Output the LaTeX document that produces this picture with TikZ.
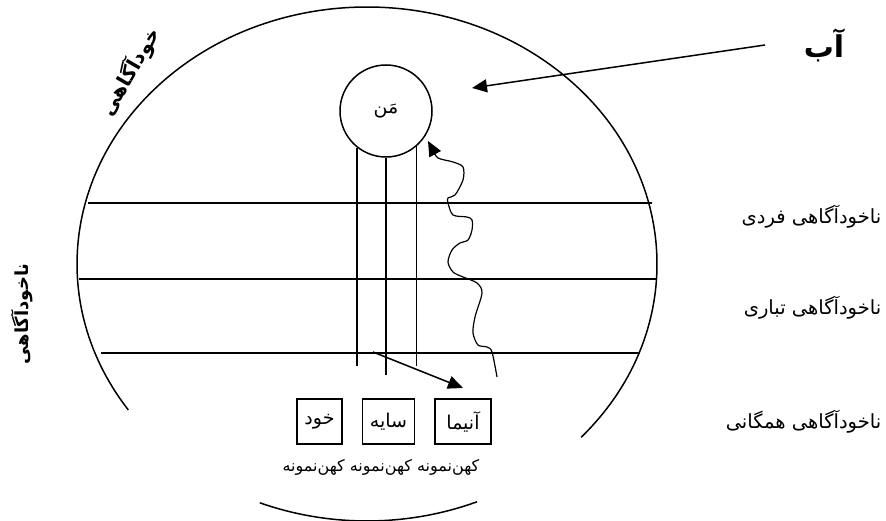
\documentclass[tikz,border=0pt]{standalone}
\usepackage{fontspec}
\newfontfamily\farsi[Script=Arabic]{DejaVu Sans}
\TeXXeTstate=1
\newcommand{\fatext}[1]{\farsi\beginR #1\endR}
\usetikzlibrary{arrows.meta,positioning}
\begin{document}
\begin{tikzpicture}[x=1pt,y=1pt,line width=1.5pt,
    lbl/.style={inner sep=0pt,font=\fontsize{19.5}{22}\selectfont},
    boldlbl/.style={inner sep=0pt,font=\fontsize{20}{24}\selectfont\bfseries},
    archbox/.style={draw,minimum height=45pt,inner sep=0pt,font=\fontsize{19}{22}\selectfont},
    tip/.style={-{Triangle[length=15pt,width=13pt]}}]
  \useasboundingbox (0,0) rectangle (886,521);
  % the psyche
  \draw (367,257) ++(-42.4:290 and 257) arc[start angle=-42.4,end angle=214.6,x radius=290,y radius=257];
  \draw (367,257) ++(248.3:290 and 257) arc[start angle=248.3,end angle=292.3,x radius=290,y radius=257];
  % layers
  \draw (88,318) -- (652,318)
        (79,242) -- (657,242)
        (101,168) -- (640,168);
  % the ego and its threads
  \node[draw,circle,minimum size=92pt,inner sep=0pt,font=\fontsize{19}{22}\selectfont] (me) at (386,410) {\fatext{مَن}};
  \coordinate (lowA) at (0,155);
  \coordinate (lowB) at (0,146);
  \draw (me.232) -- (me.232 |- lowA)
        (me.south) -- (me.south |- lowB)
        (me.311) -- (me.311 |- lowA);
  % archetypes
  \node[archbox,minimum width=45pt] (khod) at (319.5,99.5) {\fatext{خود}};
  \node[archbox,minimum width=52pt,right=19pt of khod] (sayeh) {\fatext{سایه}};
  \node[archbox,minimum width=56pt,right=19pt of sayeh] (anima) {\fatext{آنیما}};
  \node[lbl,font=\fontsize{16}{18}\selectfont] (kohan) at (381,54) {\fatext{کهن‌نمونه کهن‌نمونه کهن‌نمونه}};
  \coordinate (aStart) at (373,169);
  \coordinate (aEnd) at (463,133);
  \draw[tip] (aStart) -- (aEnd);
  % water
  \node[boldlbl,font=\fontsize{30}{34}\selectfont\bfseries] (ab) at (824,476) {\fatext{آب}};
  \coordinate (wTip) at (472,433);
  \draw[tip] ([xshift=-38pt]ab.west) -- (wTip);
  % rising path
  \draw[tip,line width=1.2pt] plot[smooth] coordinates {(497,144) (492,169) (487,174) (478,176) (473,188) (475,204)
    (482,228) (477,238) (463,244) (453,249) (448,259) (452,271) (460,278) (468,281) (472,291)
    (472,301) (467,304) (453,306) (448,318) (448,323) (455,326) (463,341) (463,354) (453,359)
    (438,363) (433,371) (428,380)};
  % layer names
  \node[lbl,anchor=east] (fardi) at (882,304) {\fatext{ناخودآگاهی فردی}};
  \node[lbl,anchor=east] (tabari) at (882,213) {\fatext{ناخودآگاهی تباری}};
  \node[lbl,anchor=east] (hamegani) at (882,99) {\fatext{ناخودآگاهی همگانی}};
  \node[boldlbl,rotate=60] (conscious) at (130,449) {\fatext{خودآگاهی}};
  \node[boldlbl,font=\fontsize{18}{22}\selectfont\bfseries,rotate=90] (unconscious) at (22,207) {\fatext{ناخودآگاهی}};
\end{tikzpicture}
\end{document}
